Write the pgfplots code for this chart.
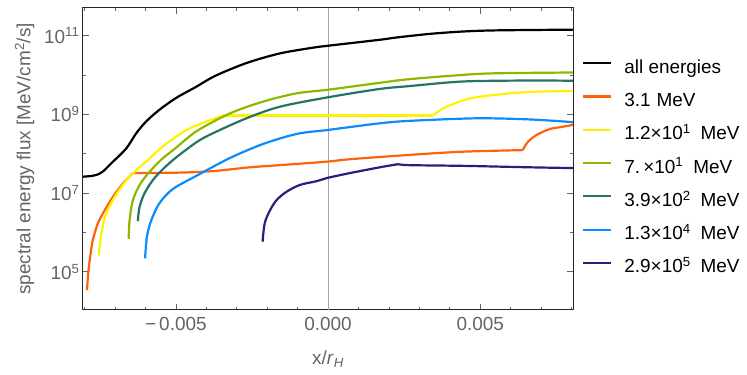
\documentclass[border=0pt]{standalone}
\usepackage{pgfplots}
\pgfplotsset{compat=1.18}
\usepackage{fontspec}
\setmainfont{Liberation Sans}

\definecolor{cOrange}{RGB}{255,98,10}
\definecolor{cYellow}{RGB}{255,242,0}
\definecolor{cLime}{RGB}{140,184,0}
\definecolor{cTeal}{RGB}{38,116,100}
\definecolor{cBlue}{RGB}{10,140,255}
\definecolor{cNavy}{RGB}{40,30,125}
\definecolor{tickgray}{RGB}{100,100,100}

\newcommand{\fs}{\fontsize{19}{22}\selectfont}

\begin{document}
\begin{tikzpicture}
\useasboundingbox (-83bp,-65bp) rectangle (664bp,310bp);
\begin{axis}[
  scale only axis,
  width=490bp, height=302bp,
  xmin=-0.00805, xmax=0.00805,
  scaled x ticks=false,
  ymode=log, ymin=1.07e4, ymax=5e11,
  xtick={-0.005,0,0.005},
  xticklabels={−\,0.005,0.000,0.005},
  minor xtick={-0.008,-0.007,-0.006,-0.004,-0.003,-0.002,-0.001,0.001,0.002,0.003,0.004,0.006,0.007,0.008},
  ytick={1e5,1e7,1e9,1e11},
  yticklabels={10\textsuperscript{5},10\textsuperscript{7},10\textsuperscript{9},10\textsuperscript{11}},
  minor ytick={1e4,1e6,1e8,1e10},
  major tick length=6bp, minor tick length=3.5bp,
  every tick/.style={tickgray, line width=0.6bp},
  axis line style={black!85, line width=1bp},
  tick label style={font=\fs, text=tickgray},
  xticklabel style={yshift=-4bp},
  label style={font=\fs, text=tickgray},
  xlabel={x/\textit{r}\textsubscript{\textit{H}}},
  xlabel style={yshift=-13bp},
  ylabel={spectral energy flux [MeV/cm\textsuperscript{2}/s]},
  ylabel style={yshift=3bp},
  legend style={at={(1,1)}, anchor=north west, xshift=6bp, yshift=-49bp,
    draw=none, fill=none, font=\fs, row sep=15.3bp, column sep=12bp,
    nodes={inner sep=0pt, text height=14bp, text depth=4bp}},
  legend cell align=left,
  legend image code/.code={\draw[#1, line width=2.2bp] (0bp,5bp) -- (28bp,5bp);},
]
\addplot[gray!70, line width=0.6bp, forget plot] coordinates {(0,1.07e4) (0,5e11)};

\addplot[black, line width=2.2bp, smooth, tension=0.5] coordinates {
(-0.00805,2.6e7) (-0.0078,2.7e7) (-0.0076,2.9e7) (-0.0074,3.5e7) (-0.00707,6.2e7)
(-0.00663,1.35e8) (-0.0063,3.3e8) (-0.00598,6.5e8) (-0.00554,1.3e9) (-0.00499,2.6e9)
(-0.00433,5.0e9) (-0.0037,9.5e9) (-0.00268,2.0e10) (-0.00159,3.5e10) (-0.0005,4.9e10)
(0,5.5e10) (0.0017,7.8e10) (0.00225,8.9e10) (0.00334,1.1e11) (0.0044,1.26e11)
(0.0055,1.35e11) (0.00805,1.41e11)};
\addlegendentry{all energies}

\addplot[cOrange, line width=2.2bp, smooth, tension=0.5] coordinates {
(-0.00792,3.4e4) (-0.00788,8.9e4) (-0.00783,1.95e5) (-0.00773,6.3e5) (-0.00756,1.7e6)
(-0.00734,3.6e6) (-0.00707,7.9e6) (-0.00674,1.74e7) (-0.00641,3.2e7)};
\addlegendentry{3.1\hspace{6bp}MeV}
\addplot[cOrange, line width=2.2bp, smooth, tension=0.5, forget plot] coordinates {
(-0.00641,3.2e7) (-0.00487,3.3e7) (-0.00378,3.6e7) (-0.00257,4.5e7) (-0.00159,5.1e7)
(0,6.3e7) (0.00071,7.2e7) (0.00268,9.3e7) (0.00442,1.12e8) (0.0064,1.23e8)};
\addplot[cOrange, line width=2.2bp, smooth, tension=0.5, forget plot] coordinates {
(0.0064,1.23e8) (0.00648,1.6e8) (0.00657,2.0e8) (0.00684,2.95e8) (0.00728,4.2e8)
(0.0077,4.8e8) (0.00805,5.4e8)};

\addplot[cYellow, line width=2.2bp, smooth, tension=0.5] coordinates {
(-0.00753,2.6e5) (-0.00745,9.3e5) (-0.00729,3.0e6) (-0.00701,7.9e6) (-0.00663,2.1e7)
(-0.0063,3.8e7) (-0.00592,6.9e7) (-0.00531,1.8e8) (-0.00454,4.4e8) (-0.00345,9.3e8)};
\addlegendentry{1.2×10\textsuperscript{1}\hspace{10bp}MeV}
\addplot[cYellow, line width=2.2bp, forget plot] coordinates {
(-0.00345,9.3e8) (0,9.3e8) (0.00345,9.3e8)};
\addplot[cYellow, line width=2.2bp, smooth, tension=0.5, forget plot] coordinates {
(0.00345,9.3e8) (0.00378,1.41e9) (0.00432,2.1e9) (0.00487,2.7e9) (0.00597,3.4e9)
(0.00706,3.8e9) (0.00805,3.9e9)};

\addplot[cLime, line width=2.2bp, smooth, tension=0.5] coordinates {
(-0.00655,6.9e5) (-0.00652,2.0e6) (-0.00641,6.6e6) (-0.00619,1.6e7) (-0.0059,3.2e7)
(-0.0055,6.8e7) (-0.0050,1.4e8) (-0.0043,3.8e8) (-0.0032,1.07e9) (-0.00213,2.1e9)
(-0.00104,3.4e9) (0,4.2e9) (0.0017,6.3e9) (0.00268,7.8e9) (0.00443,1.0e10)
(0.00553,1.1e10) (0.00805,1.15e10)};
\addlegendentry{7.\,×10\textsuperscript{1}\hspace{10bp}MeV}

\addplot[cTeal, line width=2.2bp, smooth, tension=0.5] coordinates {
(-0.00625,1.95e6) (-0.00619,4.5e6) (-0.00603,9.8e6) (-0.00576,2.1e7) (-0.00543,4.0e7)
(-0.0050,7.9e7) (-0.0043,2.0e8) (-0.00378,3.3e8) (-0.00268,7.9e8) (-0.00159,1.55e9)
(0,2.7e9) (0.0017,4.4e9) (0.00268,5.2e9) (0.00443,6.8e9) (0.00662,7.2e9) (0.00805,7.1e9)};
\addlegendentry{3.9×10\textsuperscript{2}\hspace{10bp}MeV}

\addplot[cBlue, line width=2.2bp, smooth, tension=0.5] coordinates {
(-0.00601,2.2e5) (-0.00595,7.8e5) (-0.00581,2.0e6) (-0.00554,5.5e6) (-0.0051,1.26e7)
(-0.0043,2.8e7) (-0.0032,7.9e7) (-0.0021,1.8e8) (-0.001,3.2e8)
(0,4.0e8) (0.0017,5.9e8) (0.00268,6.8e8) (0.00487,7.9e8) (0.00662,7.4e8) (0.00805,6.3e8)};
\addlegendentry{1.3×10\textsuperscript{4}\hspace{10bp}MeV}

\addplot[cNavy, line width=2.2bp, smooth, tension=0.5] coordinates {
(-0.00215,5.8e5) (-0.00208,1.7e6) (-0.00191,3.6e6) (-0.00169,6.6e6) (-0.00137,1.07e7)
(-0.00093,1.6e7) (-0.00038,2.0e7) (0,2.45e7) (0.00016,2.6e7) (0.00071,3.2e7)
(0.0017,4.5e7) (0.0023,5.4e7)};
\addlegendentry{2.9×10\textsuperscript{5}\hspace{10bp}MeV}
\addplot[cNavy, line width=2.2bp, smooth, tension=0.5, forget plot] coordinates {
(0.0023,5.4e7) (0.00268,5.1e7) (0.00443,4.9e7) (0.00662,4.5e7) (0.00805,4.3e7)};
\end{axis}
\end{tikzpicture}
\end{document}
